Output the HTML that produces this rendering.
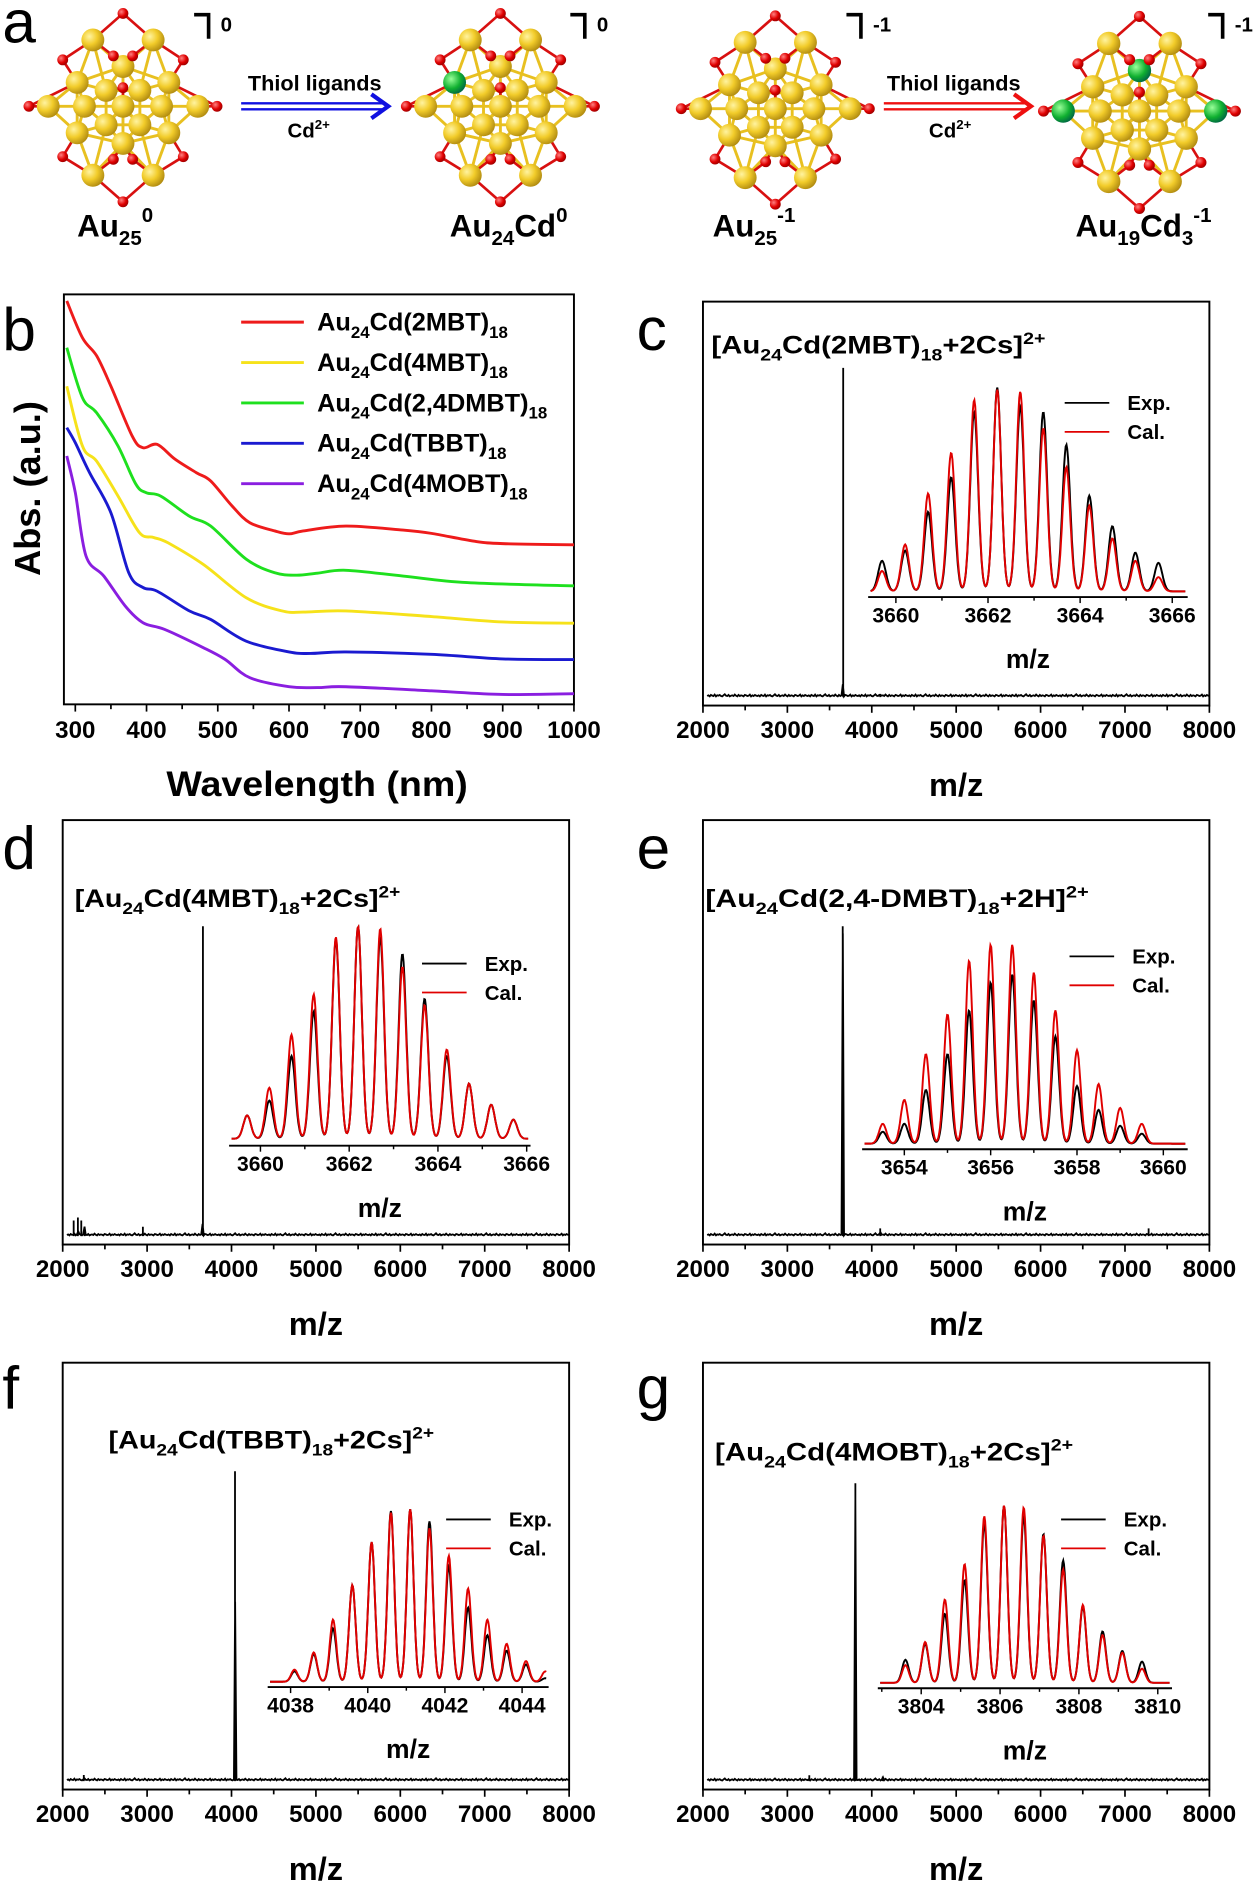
<!DOCTYPE html>
<html><head><meta charset="utf-8"><style>
html,body{margin:0;padding:0;background:#fff}
svg{display:block}
text{font-family:"Liberation Sans",sans-serif;font-weight:bold;fill:#000}
.pl{font-weight:normal;font-size:50px}
</style></head><body>
<svg id="fig" xmlns="http://www.w3.org/2000/svg" width="1254" height="1891" viewBox="0 0 1040 1568">
<defs>
<radialGradient id="gold" cx="35%" cy="35%" r="70%"><stop offset="0" stop-color="#fff3a0"/><stop offset="0.5" stop-color="#f2cc2a"/><stop offset="1" stop-color="#b08a10"/></radialGradient>
<radialGradient id="red" cx="35%" cy="35%" r="70%"><stop offset="0" stop-color="#ff8080"/><stop offset="0.6" stop-color="#e00000"/><stop offset="1" stop-color="#900"/></radialGradient>
<radialGradient id="grn" cx="35%" cy="35%" r="70%"><stop offset="0" stop-color="#9f9"/><stop offset="0.6" stop-color="#10b030"/><stop offset="1" stop-color="#064"/></radialGradient>
</defs>
<g id="panelA"></g>
<text class="pl" x="2" y="35">a</text>
<text x="261" y="75" font-size="18" text-anchor="middle">Thiol ligands</text>
<text x="256" y="114" font-size="17" text-anchor="middle">Cd<tspan font-size="11" dy="-7">2+</tspan></text>
<text x="791" y="75" font-size="18" text-anchor="middle">Thiol ligands</text>
<text x="788" y="114" font-size="17" text-anchor="middle">Cd<tspan font-size="11" dy="-7">2+</tspan></text>
<text x="64" y="196" font-size="26">Au<tspan font-size="17" dy="7">25</tspan><tspan font-size="17" dy="-19">0</tspan></text>
<text x="373" y="196" font-size="26">Au<tspan font-size="17" dy="7">24</tspan><tspan dy="-7">Cd</tspan><tspan font-size="17" dy="-12">0</tspan></text>
<text x="591" y="196" font-size="26">Au<tspan font-size="17" dy="7">25</tspan><tspan font-size="17" dy="-19">-1</tspan></text>
<text x="892" y="196" font-size="26">Au<tspan font-size="17" dy="7">19</tspan><tspan dy="-7">Cd</tspan><tspan font-size="17" dy="7">3</tspan><tspan font-size="17" dy="-19">-1</tspan></text>

<text class="pl" x="2" y="290">b</text>
<text class="pl" x="528" y="290">c</text>
<text class="pl" x="2" y="720">d</text>
<text class="pl" x="528" y="720">e</text>
<text class="pl" x="2" y="1168">f</text>
<text class="pl" x="528" y="1168">g</text>

<g id="panelB"></g>
<text x="0" y="0" font-size="30" text-anchor="middle" transform="translate(33,405) rotate(-90)">Abs. (a.u.)</text>
<text x="263" y="660" font-size="29" text-anchor="middle" textLength="250" lengthAdjust="spacingAndGlyphs">Wavelength (nm)</text>

<g id="panelC"></g>
<g id="panelD"></g>
<g id="panelE"></g>
<g id="panelF"></g>
<g id="panelG"></g>

<text x="590" y="293" font-size="21" textLength="277" lengthAdjust="spacingAndGlyphs">[Au<tspan font-size="14" dy="6">24</tspan><tspan dy="-6">Cd(2MBT)</tspan><tspan font-size="14" dy="6">18</tspan><tspan dy="-6">+2Cs]</tspan><tspan font-size="14" dy="-8">2+</tspan></text>
<text x="62" y="752" font-size="21" textLength="270" lengthAdjust="spacingAndGlyphs">[Au<tspan font-size="14" dy="6">24</tspan><tspan dy="-6">Cd(4MBT)</tspan><tspan font-size="14" dy="6">18</tspan><tspan dy="-6">+2Cs]</tspan><tspan font-size="14" dy="-8">2+</tspan></text>
<text x="585" y="752" font-size="21" textLength="318" lengthAdjust="spacingAndGlyphs">[Au<tspan font-size="14" dy="6">24</tspan><tspan dy="-6">Cd(2,4-DMBT)</tspan><tspan font-size="14" dy="6">18</tspan><tspan dy="-6">+2H]</tspan><tspan font-size="14" dy="-8">2+</tspan></text>
<text x="90" y="1201" font-size="21" textLength="270" lengthAdjust="spacingAndGlyphs">[Au<tspan font-size="14" dy="6">24</tspan><tspan dy="-6">Cd(TBBT)</tspan><tspan font-size="14" dy="6">18</tspan><tspan dy="-6">+2Cs]</tspan><tspan font-size="14" dy="-8">2+</tspan></text>
<text x="593" y="1211" font-size="21" textLength="297" lengthAdjust="spacingAndGlyphs">[Au<tspan font-size="14" dy="6">24</tspan><tspan dy="-6">Cd(4MOBT)</tspan><tspan font-size="14" dy="6">18</tspan><tspan dy="-6">+2Cs]</tspan><tspan font-size="14" dy="-8">2+</tspan></text>
</svg>
<script>
// ---------- UV-vis data (panel b) ----------
const uvTicks = [300,400,500,600,700,800,900,1000];
const redWl = [288,310,330,350,380,395,415,440,470,490,520,545,580,600,620,680,760,800,860,900,1000];
const redAbs = [98.4,89.4,85.0,77.6,65.4,62.6,63.4,59.8,56.5,54.5,48.4,44.3,42.3,41.6,42.3,43.5,42.5,41.7,39.8,39.2,38.9];
const greenWl = [288,310,330,360,385,400,420,460,490,540,580,610,640,680,760,850,1000];
const greenAbs = [87,74.8,71.1,63,53.7,51.6,50.8,45.9,43.5,35.4,32.1,31.5,32,32.7,31.3,29.7,28.9];
const yellowWl = [288,310,330,360,390,410,430,480,540,590,620,680,800,900,1000];
const yellowAbs = [77.6,63,59.3,50.8,41.9,40.7,39.4,34.1,26,22.8,22.5,22.8,21.4,20.1,19.8];
const blueWl = [288,300,320,350,375,395,415,460,490,540,600,630,680,800,900,1000];
const blueAbs = [67.5,63.8,56.5,46.7,32.1,28.5,27.6,22.8,20.7,15.4,12.8,12.4,12.8,12.2,11.1,10.9];
const purpleWl = [288,300,315,340,370,395,425,480,510,545,600,640,680,800,900,1000];
const purpleAbs = [60.6,51.6,36.2,31.3,24,19.9,18.3,13.8,11,6.5,4.3,4.1,4.3,3.3,2.4,2.6];
const uvLegend = ["2MBT","4MBT","2,4DMBT","TBBT","4MOBT"];

// ---------- MS data ----------
const msTicks = [2000,3000,4000,5000,6000,7000,8000];
const noiseAmp = [3,5,2,6,4,3,7,2,5,4,6,3,2,5,8,4,3,6,2,4,5,3,7,4,2,6,3,5,4,2,6,5,3,4,7,2,5,3,6,4];
const cMainMz = [3662,4100]; const cMainInt = [1.0,0.01];
const dMainMz = [2130,2180,2220,2260,2950,3662]; const dMainInt = [0.05,0.06,0.05,0.03,0.03,1.0];
const eMainMz = [3656,4100,7280]; const eMainInt = [1.0,0.025,0.025];
const fMainMz = [2250,4041]; const fMainInt = [0.02,1.0];
const gMainMz = [3260,3806,4130]; const gMainInt = [0.02,1.0,0.015];

const cIsoMz = [3659.7,3660.2,3660.7,3661.2,3661.7,3662.2,3662.7,3663.2,3663.7,3664.2,3664.7,3665.2,3665.7];
const cCal = [0.10,0.23,0.48,0.68,0.94,0.99,0.98,0.80,0.61,0.42,0.26,0.15,0.07];
const cExp = [0.15,0.20,0.39,0.56,0.88,1.0,0.91,0.88,0.72,0.47,0.32,0.19,0.14];
const cTicks = [3660,3662,3664,3666];
const dIsoMz = [3659.7,3660.2,3660.7,3661.2,3661.7,3662.2,3662.7,3663.2,3663.7,3664.2,3664.7,3665.2,3665.7];
const dCal = [0.11,0.24,0.49,0.68,0.95,1.0,0.99,0.81,0.63,0.42,0.26,0.16,0.09];
const dExp = [0.11,0.18,0.39,0.60,0.94,1.0,0.95,0.87,0.66,0.39,0.26,0.16,0.09];
const dTicks = [3660,3662,3664,3666];
const eIsoMz = [3653.5,3654,3654.5,3655,3655.5,3656,3656.5,3657,3657.5,3658,3658.5,3659,3659.5];
const eCal = [0.10,0.22,0.45,0.65,0.92,1.0,1.0,0.86,0.67,0.47,0.30,0.18,0.10];
const eExp = [0.06,0.10,0.27,0.45,0.67,0.81,0.85,0.72,0.54,0.29,0.17,0.09,0.05];
const eTicks = [3654,3656,3658,3660];
const fIsoMz = [4038.1,4038.6,4039.1,4039.6,4040.1,4040.6,4041.1,4041.6,4042.1,4042.6,4043.1,4043.6,4044.1,4044.6];
const fCal = [0.07,0.17,0.36,0.56,0.81,0.98,1.0,0.89,0.73,0.54,0.36,0.22,0.12,0.06];
const fExp = [0.06,0.16,0.31,0.56,0.81,0.99,1.0,0.93,0.67,0.43,0.27,0.18,0.10,0.02];
const fTicks = [4038,4040,4042,4044];
const gIsoMz = [3803.6,3804.1,3804.6,3805.1,3805.6,3806.1,3806.6,3807.1,3807.6,3808.1,3808.6,3809.1,3809.6];
const gCal = [0.10,0.23,0.47,0.67,0.94,1.0,0.99,0.83,0.64,0.44,0.27,0.17,0.08];
const gExp = [0.13,0.22,0.39,0.58,0.90,1.0,0.94,0.84,0.69,0.43,0.29,0.18,0.12];
const gTicks = [3804,3806,3808,3810];

const NS = "http://www.w3.org/2000/svg";
function el(tag, attrs, parent){ const e=document.createElementNS(NS,tag); for(const k in attrs) e.setAttribute(k,attrs[k]); parent.appendChild(e); return e; }
function smoothPath(pts){
  let d="M"+pts[0][0].toFixed(1)+","+pts[0][1].toFixed(1);
  for(let i=0;i<pts.length-1;i++){
    const p0=pts[Math.max(0,i-1)],p1=pts[i],p2=pts[i+1],p3=pts[Math.min(pts.length-1,i+2)];
    const c1=[p1[0]+(p2[0]-p0[0])/6,p1[1]+(p2[1]-p0[1])/6], c2=[p2[0]-(p3[0]-p1[0])/6,p2[1]-(p3[1]-p1[1])/6];
    d+=" C"+c1[0].toFixed(1)+","+c1[1].toFixed(1)+" "+c2[0].toFixed(1)+","+c2[1].toFixed(1)+" "+p2[0].toFixed(1)+","+p2[1].toFixed(1);
  }
  return d;
}

// ---------- Panel a: clusters ----------
const A = document.getElementById('panelA');
const goldPos=[[-25,-50],[25,-50],[-38,-18],[0,-30],[38,-18],[-14,-12],[14,-12],[-62,0],[-32,0],[0,0],[32,0],[62,0],[-38,20],[0,28],[38,20],[-14,14],[14,14],[-25,52],[25,52]];
const redPos=[[0,-70],[-50,-35],[50,-35],[-8,-38],[8,-38],[-78,0],[78,0],[-50,38],[50,38],[-8,40],[8,40],[0,72],[0,-14]];
function cluster(cx,cy,s,greens,name){
  const g=el('g',{},A);
  
  
  const P=p=>[cx+p[0]*s,cy+p[1]*s*1.1];
  goldPos.forEach((p,i)=>{ goldPos.forEach((q,j)=>{ if(j>i && Math.hypot(p[0]-q[0],p[1]-q[1])<40){ const a=P(p),b=P(q); el('line',{x1:a[0],y1:a[1],x2:b[0],y2:b[1],stroke:'#e8c020','stroke-width':2.4},g);} });});
  redPos.forEach(r=>{
    const near=goldPos.map(q=>[Math.hypot(q[0]-r[0],q[1]-r[1]),q]).sort((a,b)=>a[0]-b[0]).slice(0,2);
    near.forEach(n=>{ const a=P(r),b=P(n[1]); el('line',{x1:a[0],y1:a[1],x2:b[0],y2:b[1],stroke:'#d81010','stroke-width':2.2},g);});
  });
  goldPos.forEach((p,i)=>{ const gr=greens.indexOf(i)>=0; const a=P(p); el('circle',{cx:a[0],cy:a[1],r:9.5*s,fill:gr?'url(#grn)':'url(#gold)'},g);});
  redPos.forEach(r=>{ const a=P(r); el('circle',{cx:a[0],cy:a[1],r:4.5*s,fill:'url(#red)'},g);});
}
cluster(102,88,1,[],'au25-neutral-structure');
cluster(415,88,1,[2],'au24cd-structure');
cluster(643,90,1,[],'au25-anion-structure');
cluster(945,92,1.02,[3,7,11],'au19cd3-structure');
function bracket(x,y,lab,name){
  const p=el('path',{d:`M${x},${y} H${x+12} V${y+20}`,fill:'none',stroke:'#000','stroke-width':3},A);
  
  
  const t=el('text',{x:x+22,y:y+14,'font-size':17},A); t.textContent=lab;
  
  
}
bracket(161,12,'0','charge-bracket-1'); bracket(473,12,'0','charge-bracket-2');
bracket(702,12,'-1','charge-bracket-3'); bracket(1002,12,'-1','charge-bracket-4');
function arrow(x1,x2,y,col,name){
  const g=el('g',{},A);
  
  
  el('line',{x1:x1,y1:y-2.5,x2:x2-4,y2:y-2.5,stroke:col,'stroke-width':2},g);
  el('line',{x1:x1,y1:y+2.5,x2:x2-4,y2:y+2.5,stroke:col,'stroke-width':2},g);
  el('path',{d:`M${x2-14},${y-10} L${x2},${y} L${x2-14},${y+10}`,fill:'none',stroke:col,'stroke-width':3.5},g);
}
arrow(200,322,88,'#1010e0','reaction-arrow-blue');
arrow(733,855,88,'#ee1010','reaction-arrow-red');

// ---------- Panel b ----------
const B=document.getElementById('panelB');
const bL=53,bR=476,bT=244,bB=584,wMin=284,wMax=1000;
const xw=w=>bL+(w-wMin)/(wMax-wMin)*(bR-bL);
const ya=a=>bB-a/100*(bB-bT);
const bf=el('rect',{x:bL,y:bT,width:bR-bL,height:bB-bT,fill:'none',stroke:'#000','stroke-width':1.6},B);


for(let w=300;w<=1000;w+=50){
  const major=w%100==0;
  const tk=el('line',{x1:xw(w),y1:bB,x2:xw(w),y2:bB+(major?6:4),stroke:'#000','stroke-width':1.4},B);
  
  
}
uvTicks.forEach(w=>{
  const t=el('text',{x:xw(w),y:612,'font-size':20,'text-anchor':'middle'},B); t.textContent=w;
  
  
});
const uvSeries=[[redWl,redAbs,'#ee1b1b'],[yellowWl,yellowAbs,'#f6e21a'],[greenWl,greenAbs,'#1ee01e'],[blueWl,blueAbs,'#1a1ad0'],[purpleWl,purpleAbs,'#8a1ee0']];
const uvNames=['series-2mbt','series-4mbt','series-24dmbt','series-tbbt','series-4mobt'];
uvSeries.forEach((s,i)=>{
  const pts=s[0].map((w,k)=>[xw(w),ya(s[1][k])]);
  const p=el('path',{d:smoothPath(pts),fill:'none',stroke:s[2],'stroke-width':2.4},B);
  
  
});
const legCols=['#ee1b1b','#f6e21a','#1ee01e','#1a1ad0','#8a1ee0'];
uvLegend.forEach((lig,i)=>{
  const y=267+i*33.5;
  const l=el('line',{x1:200,y1:y,x2:252,y2:y,stroke:legCols[i],'stroke-width':2.4},B);
  
  
  const t=el('text',{x:263,y:y+7,'font-size':21},B);
  t.innerHTML='Au<tspan font-size="14" dy="6">24</tspan><tspan dy="-6">Cd('+lig+')</tspan><tspan font-size="14" dy="6">18</tspan>';
  
  
});

// ---------- MS panels ----------
function msPanel(id,fr,mainMz,mainInt,peakTop,ins,isoMz,cal,exp,iTicks){
  const G=document.getElementById(id);
  const x=m=>fr.l+(m-2000)/6000*(fr.r-fr.l);
  const base=fr.b-7;
  const y=v=>base-v*(base-peakTop);
  const f=el('rect',{x:fr.l,y:fr.t,width:fr.r-fr.l,height:fr.b-fr.t,fill:'none',stroke:'#000','stroke-width':1.6},G);
  
  
  for(let m=2000;m<=8000;m+=500){
    const tk=el('line',{x1:x(m),y1:fr.b,x2:x(m),y2:fr.b+(m%1000==0?6:4),stroke:'#000','stroke-width':1.4},G);
    
    
  }
  msTicks.forEach(m=>{
    const t=el('text',{x:x(m),y:fr.b+27,'font-size':20,'text-anchor':'middle'},G); t.textContent=m;
    
    
  });
  const tt=el('text',{x:(fr.l+fr.r)/2,y:fr.b+75,'font-size':27,'text-anchor':'middle'},G); tt.textContent='m/z';
  
  
  let d='';
  const n=noiseAmp.length*10;
  for(let i=0;i<=n;i++){
    const m=2050+i*(5950/n);
    let v=noiseAmp[i%noiseAmp.length]/900;
    mainMz.forEach((pm,k)=>{ v+=mainInt[k]*Math.exp(-Math.pow((m-pm)/3,2)); });
    d+=(i?' L':'M')+x(m).toFixed(1)+','+y(v).toFixed(1);
  }
  mainMz.forEach((pm,k)=>{ d+=' M'+x(pm).toFixed(1)+','+base+' L'+x(pm).toFixed(1)+','+y(mainInt[k]).toFixed(1); });
  const sp=el('path',{d:d,fill:'none',stroke:'#000','stroke-width':1.5},G);
  
  
  // inset
  const ix=m=>ins.x0+(m-ins.m0)*ins.k;
  const iy=v=>ins.base-v*(ins.base-ins.top);
  const ax=el('line',{x1:ins.l,y1:ins.ay,x2:ins.r,y2:ins.ay,stroke:'#000','stroke-width':1.6},G);
  
  
  for(let m=Math.ceil(ins.m0-5);m<=ins.m0+10;m++){
    const px=ix(m); if(px<ins.l||px>ins.r) continue;
    const tk=el('line',{x1:px,y1:ins.ay,x2:px,y2:ins.ay+(iTicks.indexOf(m)>=0?5:3),stroke:'#000','stroke-width':1.2},G);
    
    
  }
  iTicks.forEach(m=>{
    const t=el('text',{x:ix(m),y:ins.ay+21,'font-size':17.5,'text-anchor':'middle'},G); t.textContent=m;
    
    
  });
  const it=el('text',{x:(ins.l+ins.r)/2,y:ins.ay+59,'font-size':22,'text-anchor':'middle'},G); it.textContent='m/z';
  
  
  [[exp,'#000','inset-exp-trace'],[cal,'#e00000','inset-cal-trace']].forEach(sr=>{
    let dd='';
    const mL=(ins.l+2-ins.x0)/ins.k+ins.m0, mR=(ins.r-2-ins.x0)/ins.k+ins.m0;
    for(let i=0;i<=400;i++){
      const m=mL+(mR-mL)*i/400;
      let v=0.01;
      isoMz.forEach((pm,k)=>{ v+=sr[0][k]*Math.exp(-Math.pow((m-pm)/0.085,2)/2); });
      dd+=(i?' L':'M')+ix(m).toFixed(1)+','+iy(v).toFixed(1);
    }
    const p=el('path',{d:dd,fill:'none',stroke:sr[1],'stroke-width':1.6},G);
    
    
  });
  [['Exp.','#000',0],['Cal.','#e00000',1]].forEach(l=>{
    const yy=ins.ly+l[2]*24;
    const ln=el('line',{x1:ins.lx,y1:yy,x2:ins.lx+37,y2:yy,stroke:l[1],'stroke-width':1.5},G);
    
    
    const t=el('text',{x:ins.lx+52,y:yy+6,'font-size':17},G); t.textContent=l[0];
    
    
  });
}
msPanel('panelC',{l:583,r:1003,t:250,b:585},cMainMz,cMainInt,305,
  {l:720,r:985,ay:495,x0:743,m0:3660,k:38.2,base:492,top:323,lx:883,ly:334},cIsoMz,cCal,cExp,cTicks);
msPanel('panelD',{l:52,r:472,t:680,b:1032},dMainMz,dMainInt,768,
  {l:190,r:440,ay:950,x0:216,m0:3660,k:36.8,base:946,top:770,lx:350,ly:799},dIsoMz,dCal,dExp,dTicks);
msPanel('panelE',{l:583,r:1003,t:680,b:1032},eMainMz,eMainInt,768,
  {l:715,r:985,ay:953,x0:750,m0:3654,k:35.8,base:950,top:785,lx:887,ly:793},eIsoMz,eCal,eExp,eTicks);
msPanel('panelF',{l:52,r:472,t:1130,b:1484},fMainMz,fMainInt,1220,
  {l:222,r:455,ay:1399,x0:241,m0:4038,k:32,base:1396,top:1253,lx:370,ly:1260},fIsoMz,fCal,fExp,fTicks);
msPanel('panelG',{l:583,r:1003,t:1130,b:1484},gMainMz,gMainInt,1230,
  {l:728,r:972,ay:1400,x0:764,m0:3804,k:32.7,base:1397,top:1250,lx:880,ly:1260},gIsoMz,gCal,gExp,gTicks);
</script>
</body></html>
